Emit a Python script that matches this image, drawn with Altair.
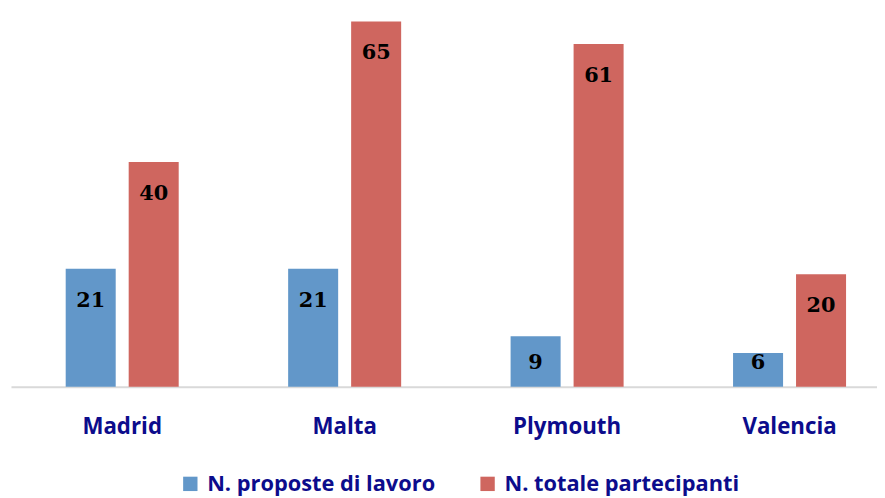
import altair as alt
import pandas as pd

cities = ["Madrid", "Malta", "Plymouth", "Valencia"]
series = ["N. proposte di lavoro", "N. totale partecipanti"]
proposte = [21, 21, 9, 6]
partecipanti = [40, 65, 61, 20]
colors = ["#6297C9", "#CF665F"]

rows = []
for i, c in enumerate(cities):
    rows.append({"city": c, "serie": series[0], "v": proposte[i]})
    rows.append({"city": c, "serie": series[1], "v": partecipanti[i]})
df = pd.DataFrame(rows)

navy = "#0C0C8C"

x = alt.X("city:N", sort=cities, title=None,
          scale=alt.Scale(range=[3, 901], paddingInner=0.492, paddingOuter=0.246, round=False),
          axis=alt.Axis(labelAngle=0, ticks=False, domainColor="#D9D9D9", domainWidth=2,
                        labelFont="Open Sans", labelFontWeight="bold", labelFontSize=22.5,
                        labelColor=navy, labelPadding=29))
xo = alt.XOffset("serie:N", sort=series,
                 scale=alt.Scale(paddingInner=0.206, paddingOuter=0, round=False))
y = alt.Y("v:Q", scale=alt.Scale(domain=[0, 67.0], nice=False), axis=None)

bars = alt.Chart(df).mark_bar().encode(
    x=x, xOffset=xo, y=y,
    color=alt.Color("serie:N", sort=series,
                    scale=alt.Scale(domain=series, range=colors),
                    legend=alt.Legend(title=None, orient="none", legendX=173, legendY=467,
                                      direction="horizontal", symbolType="square",
                                      symbolSize=210, symbolStrokeWidth=0,
                                      labelFont="Open Sans", labelFontWeight="bold",
                                      labelFontSize=22, labelColor=navy, labelOffset=6,
                                      columnPadding=41, labelLimit=400)),
)

labels = alt.Chart(df).transform_calculate(
    ly="max(datum.v - 5.7, 4.24)"
).mark_text(font="DejaVu Serif", fontWeight="bold", fontSize=21,
            color="black", baseline="middle").encode(
    x=alt.X("city:N", sort=cities), xOffset=alt.XOffset("serie:N", sort=series),
    y=alt.Y("ly:Q"),
    text="v:Q",
)

chart = alt.layer(bars, labels).properties(
    width=877, height=380,
    autosize=alt.AutoSizeParams(type="none"),
    padding={"left": 0, "top": 0, "right": 0, "bottom": 109},
).configure_view(stroke=None)

chart.save("out.html", embed_options={"renderer": "svg", "actions": False})
